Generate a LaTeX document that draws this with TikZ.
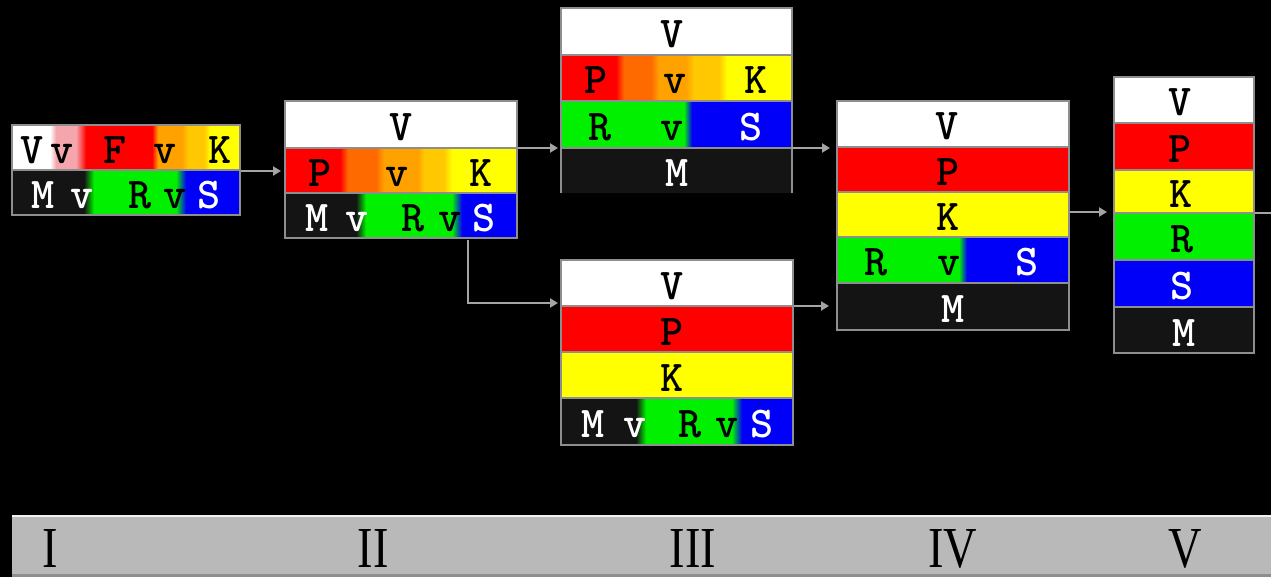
\documentclass[tikz,border=0pt]{standalone}
\usepackage{fontspec}
\newfontfamily\numfont{Liberation Serif}
\usetikzlibrary{arrows.meta,calc}
\definecolor{pinkc}{HTML}{F4A6AC}
\definecolor{redc}{HTML}{FF0000}
\definecolor{oranA}{HTML}{FF6A00}
\definecolor{oranB}{HTML}{FFA200}
\definecolor{oranC}{HTML}{FFC800}
\definecolor{yelc}{HTML}{FFFF00}
\definecolor{grnc}{HTML}{00F000}
\definecolor{bluc}{HTML}{0000F8}
\definecolor{blkc}{HTML}{141414}
\definecolor{bordc}{HTML}{8E8E8E}
\definecolor{arrc}{HTML}{A4A4A4}
\definecolor{bandc}{HTML}{B9B9B9}
\newcommand\segf[5]{\fill[#5] (#1,#3) rectangle (#2,#4);}
\newcommand\segg[6]{\shade[left color=#5,right color=#6] (#1,#3) rectangle (#2,#4);}
\tikzset{
  lab/.style={anchor=base,inner sep=0pt,text=black,font=\ttfamily\bfseries\fontsize{44}{44}\selectfont},
  labw/.style={lab,text=white},
  boxnode/.style={rectangle,inner sep=0pt,draw=bordc,line width=2pt},
  sepline/.style={draw=bordc,line width=2pt},
  arr/.style={draw=arrc,line width=2pt,-{Triangle[length=8pt,width=9pt]}},
  numlab/.style={anchor=base,inner sep=0pt,text=black,xscale=0.8,font=\numfont\fontsize{58}{58}\selectfont}
}
\begin{document}
\begin{tikzpicture}[x=1pt,y=-1pt]
\useasboundingbox (0,0) rectangle (1271,577);
\clip (0,0) rectangle (1271,577);
\fill[black] (0,0) rectangle (1271,577);

% ---------- Box I ----------
\segf{12}{50}{125}{170}{white}
\segg{50}{56}{125}{170}{white}{pinkc}
\segf{56}{76}{125}{170}{pinkc}
\segg{76}{86}{125}{170}{pinkc}{redc}
\segf{86}{152}{125}{170}{redc}
\segg{152}{158}{125}{170}{redc}{oranB}
\segf{158}{182}{125}{170}{oranB}
\segg{182}{188}{125}{170}{oranB}{oranC}
\segf{188}{204}{125}{170}{oranC}
\segg{204}{210}{125}{170}{oranC}{yelc}
\segf{210}{240}{125}{170}{yelc}
\segf{12}{84}{170}{215}{blkc}
\segg{84}{94}{170}{215}{blkc}{grnc}
\segf{94}{176}{170}{215}{grnc}
\segg{176}{186}{170}{215}{grnc}{bluc}
\segf{186}{240}{170}{215}{bluc}
\draw[sepline] (12,170) -- (240,170);
\node[boxnode,minimum width=228pt,minimum height=90pt] (b1) at (126,170) {};
\node[lab] (l1a) at (32,163.5) {V};
\node[lab] (l1b) at (62,163.5) {v};
\node[lab] (l1c) at (115,163.5) {F};
\node[lab] (l1d) at (165,163.5) {v};
\node[lab] (l1e) at (220,163.5) {K};
\node[labw] (l1f) at (43,208.5) {M};
\node[labw] (l1g) at (82,208.5) {v};
\node[lab] (l1h) at (140,208.5) {R};
\node[lab] (l1i) at (175,208.5) {v};
\node[labw] (l1j) at (209,208.5) {S};

% ---------- Box II ----------
\segf{285}{517}{101}{148}{white}
\segf{285}{340}{148}{193}{redc}
\segg{340}{348}{148}{193}{redc}{oranA}
\segf{348}{376}{148}{193}{oranA}
\segg{376}{384}{148}{193}{oranA}{oranB}
\segf{384}{418}{148}{193}{oranB}
\segg{418}{424}{148}{193}{oranB}{oranC}
\segf{424}{444}{148}{193}{oranC}
\segg{444}{452}{148}{193}{oranC}{yelc}
\segf{452}{517}{148}{193}{yelc}
\segf{285}{356}{193}{238}{blkc}
\segg{356}{366}{193}{238}{blkc}{grnc}
\segf{366}{452}{193}{238}{grnc}
\segg{452}{462}{193}{238}{grnc}{bluc}
\segf{462}{517}{193}{238}{bluc}
\draw[sepline] (285,148) -- (517,148);
\draw[sepline] (285,193) -- (517,193);
\node[boxnode,minimum width=232pt,minimum height=137pt] (b2) at (401,169.5) {};
\node[lab] (l2a) at (401,140.5) {V};
\node[lab] (l2b) at (320,186.5) {P};
\node[lab] (l2c) at (397,186.5) {v};
\node[lab] (l2d) at (481,186.5) {K};
\node[labw] (l2e) at (317,231.5) {M};
\node[labw] (l2f) at (357,231.5) {v};
\node[lab] (l2g) at (413,231.5) {R};
\node[lab] (l2h) at (450,231.5) {v};
\node[labw] (l2i) at (484,231.5) {S};

% ---------- Box III (top) ----------
\segf{561}{792}{8}{55}{white}
\segf{561}{616}{55}{101}{redc}
\segg{616}{624}{55}{101}{redc}{oranA}
\segf{624}{651}{55}{101}{oranA}
\segg{651}{659}{55}{101}{oranA}{oranB}
\segf{659}{686}{55}{101}{oranB}
\segg{686}{694}{55}{101}{oranB}{oranC}
\segf{694}{719}{55}{101}{oranC}
\segg{719}{727}{55}{101}{oranC}{yelc}
\segf{727}{792}{55}{101}{yelc}
\segf{561}{684}{101}{148}{grnc}
\segg{684}{692}{101}{148}{grnc}{bluc}
\segf{692}{792}{101}{148}{bluc}
\segf{561}{792}{148}{193}{blkc}
\draw[sepline] (561,55) -- (792,55);
\draw[sepline] (561,101) -- (792,101);
\draw[sepline] (561,148) -- (792,148);
\node[rectangle,inner sep=0pt,minimum width=231pt,minimum height=185pt] (b3a) at (676.5,100.5) {};
\draw[sepline] (b3a.south west) -- (b3a.north west) -- (b3a.north east) -- (b3a.south east);
\node[lab] (l3a) at (672,47.5) {V};
\node[lab] (l3b) at (596,94) {P};
\node[lab] (l3c) at (675,94) {v};
\node[lab] (l3d) at (756,94) {K};
\node[lab] (l3e) at (600,140.5) {R};
\node[lab] (l3f) at (672,140.5) {v};
\node[labw] (l3g) at (751,140.5) {S};
\node[labw] (l3h) at (677,186.5) {M};

% ---------- Box III (bottom) ----------
\segf{561}{793}{260}{306}{white}
\segf{561}{793}{306}{352}{redc}
\segf{561}{793}{352}{398}{yelc}
\segf{561}{636}{398}{445}{blkc}
\segg{636}{646}{398}{445}{blkc}{grnc}
\segf{646}{732}{398}{445}{grnc}
\segg{732}{742}{398}{445}{grnc}{bluc}
\segf{742}{793}{398}{445}{bluc}
\draw[sepline] (561,306) -- (793,306);
\draw[sepline] (561,352) -- (793,352);
\draw[sepline] (561,398) -- (793,398);
\node[boxnode,minimum width=232pt,minimum height=185pt] (b3b) at (677,352.5) {};
\node[lab] (l4a) at (672,299) {V};
\node[lab] (l4b) at (672,345) {P};
\node[lab] (l4c) at (672,391) {K};
\node[labw] (l4d) at (593,437.5) {M};
\node[labw] (l4e) at (635,437.5) {v};
\node[lab] (l4f) at (690,437.5) {R};
\node[lab] (l4g) at (727,437.5) {v};
\node[labw] (l4h) at (762,437.5) {S};

% ---------- Box IV ----------
\segf{837}{1069}{101}{147}{white}
\segf{837}{1069}{147}{192}{redc}
\segf{837}{1069}{192}{237}{yelc}
\segf{837}{959}{237}{283}{grnc}
\segg{959}{967}{237}{283}{grnc}{bluc}
\segf{967}{1069}{237}{283}{bluc}
\segf{837}{1069}{283}{330}{blkc}
\draw[sepline] (837,147) -- (1069,147);
\draw[sepline] (837,192) -- (1069,192);
\draw[sepline] (837,237) -- (1069,237);
\draw[sepline] (837,283) -- (1069,283);
\node[boxnode,minimum width=232pt,minimum height=229pt] (b4) at (953,215.5) {};
\node[lab] (l5a) at (947,140) {V};
\node[lab] (l5b) at (948,185.5) {P};
\node[lab] (l5c) at (948,230.5) {K};
\node[lab] (l5d) at (876,276) {R};
\node[lab] (l5e) at (949,276) {v};
\node[labw] (l5f) at (1027,276) {S};
\node[labw] (l5g) at (953,322.5) {M};

% ---------- Box V ----------
\segf{1114}{1254}{77}{123}{white}
\segf{1114}{1254}{123}{170}{redc}
\segf{1114}{1254}{170}{213}{yelc}
\segf{1114}{1254}{213}{260}{grnc}
\segf{1114}{1254}{260}{307}{bluc}
\segf{1114}{1254}{307}{353}{blkc}
\draw[sepline] (1114,123) -- (1254,123);
\draw[sepline] (1114,170) -- (1254,170);
\draw[sepline] (1114,213) -- (1254,213);
\draw[sepline] (1114,260) -- (1254,260);
\draw[sepline] (1114,307) -- (1254,307);
\node[boxnode,minimum width=140pt,minimum height=276pt] (b5) at (1184,215) {};
\node[lab] (l6a) at (1180,116) {V};
\node[lab] (l6b) at (1180,162.5) {P};
\node[lab] (l6c) at (1181,207.5) {K};
\node[lab] (l6d) at (1182,252.5) {R};
\node[labw] (l6e) at (1182,299.5) {S};
\node[labw] (l6f) at (1184,346) {M};

% ---------- connectors ----------
\coordinate (t1) at (281,171);
\coordinate (t2) at (558,148);
\coordinate (t3) at (558,303);
\coordinate (t4) at (830,148);
\coordinate (t5) at (829,306);
\coordinate (t6) at (1107,212);
\coordinate (t7) at (1290,213);
\draw[arr] (b1.east |- t1) -- (t1);
\draw[arr] (b2.east |- t2) -- (t2);
\draw[arr] ($(b2.south east)+(-50,1)$) |- (t3);
\draw[arr] (b3a.east |- t4) -- (t4);
\draw[arr] (b3b.east |- t5) -- (t5);
\draw[arr] (b4.east |- t6) -- (t6);
\draw[arr] (b5.east |- t7) -- (t7);

% ---------- band ----------
\fill[bandc] (12,515) rectangle (1271,577);
\draw[white!80!bandc,line width=1.5pt] (12,515.75) -- (1271,515.75);
\draw[bordc,line width=3pt] (12,575.5) -- (1271,575.5);
\node[numlab] (n1) at (50,567) {I};
\node[numlab] (n2) at (373,567) {II};
\node[numlab] (n3) at (693,567) {III};
\node[numlab] (n4) at (953,567) {IV};
\node[numlab] (n5) at (1185,567) {V};
\end{tikzpicture}
\end{document}
